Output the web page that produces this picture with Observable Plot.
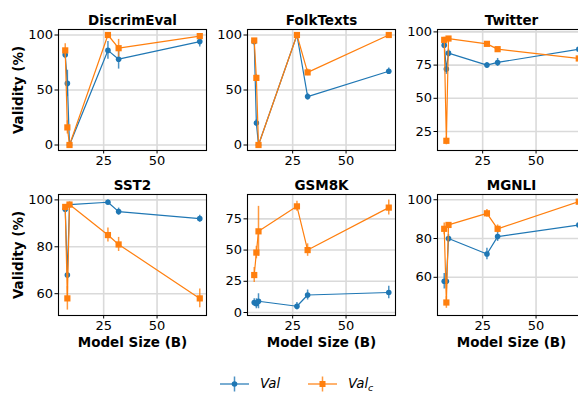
<!DOCTYPE html>
<html><head><meta charset="utf-8">
<script src="https://cdn.jsdelivr.net/npm/d3@7"></script>
<script src="https://cdn.jsdelivr.net/npm/@observablehq/plot@0.6"></script>
<style>
body{margin:0;background:#fff;font-family:"DejaVu Sans",sans-serif;}
#wrap{position:relative;width:578px;height:394px;overflow:hidden;background:#fff;}
#wrap svg.panel{position:absolute;}
.leg{position:absolute;font-family:"DejaVu Sans",sans-serif;font-style:italic;font-size:13.3px;color:#000;line-height:1;}
.leg sub{font-size:9.5px;vertical-align:-3px;}
</style></head><body><div id="wrap"></div>
<script>
// ---- data ----
const modelSizes = [7, 8, 9, 27, 32, 70];
const tasks = ["DiscrimEval", "FolkTexts", "Twitter", "SST2", "GSM8K", "MGNLI"];
const seriesNames = ["Val", "Val_c"];
const valMean = [
  [82, 56, 0, 86, 78, 94],
  [94, 20, 0, 100, 44, 67],
  [90, 72, 84, 75, 77, 87],
  [96, 68, 98, 99, 95, 92],
  [8, 7, 9, 5, 14, 16],
  [58, 58, 80, 72, 81, 87]
];
const valErr = [
  [3, 12, 1, 8, 9, 5],
  [2, 3, 1, 1, 3, 3],
  [2, 4, 3, 2, 3, 2],
  [1, 1, 1, 1, 1.5, 1.5],
  [3, 4, 6, 3, 4, 5],
  [4, 4, 2, 3, 2.5, 2]
];
const valcMean = [
  [86, 16, 0, 100, 88, 99],
  [95, 61, 0, 100, 66, 100],
  [94, 18, 95, 91, 87, 80],
  [97, 58, 98, 85, 81, 58],
  [30, 48, 65, 85, 50, 84],
  [85, 47, 87, 93, 85, 99]
];
const valcErr = [
  [6, 6, 1, 1, 8, 1],
  [1, 3, 1, 1, 3, 1],
  [2, 3, 1, 1.5, 1, 2],
  [1, 5, 1, 3, 3, 4],
  [6, 5, 20, 4, 5, 6],
  [3, 3, 1, 2, 2, 1]
];
const xTicks = [25, 50];
const yTicks = [[0, 50, 100], [0, 50, 100], [25, 50, 75, 100], [60, 80, 100], [0, 25, 50, 75], [60, 80, 100]];

// ---- layout / scales ----
const xDomain = [3.85, 73.15];
const yDomains = [[-5, 105], [-5, 105], [10.7, 101.8], [50.7, 102.3], [-2.4, 94.5], [40.3, 102.7]];
const colLeft = [58, 247, 437];
const rowTop = [29.3, 194];
const W = 148, H = 121;
const BLUE = "#1f77b4", ORANGE = "#ff7f0e";

const wrap = document.getElementById("wrap");

function series(i, means, errs, name) {
  return modelSizes.map((x, j) => ({x, y: means[i][j], e: errs[i][j], s: name}));
}

tasks.forEach((task, i) => {
  const col = i % 3, row = Math.floor(i / 3);
  const mL = col === 0 ? 58 : 42, mR = 14, mT = 30, mB = row === 1 ? 40 : 22;
  const a = series(i, valMean, valErr, seriesNames[0]);
  const b = series(i, valcMean, valcErr, seriesNames[1]);
  const marks = [
    Plot.gridX({ticks: xTicks, stroke: "#dadada", strokeOpacity: 1, strokeWidth: 1.6}),
    Plot.gridY({ticks: yTicks[i], stroke: "#dadada", strokeOpacity: 1, strokeWidth: 1.6}),
    Plot.axisX({ticks: xTicks, tickSize: 3.5, tickPadding: 2, label: null, fontSize: 13}),
    Plot.axisY({ticks: yTicks[i], tickSize: 3.5, tickPadding: 2, label: null, fontSize: 13}),
    Plot.ruleX(a, {x: "x", y1: d => d.y - d.e, y2: d => d.y + d.e, stroke: BLUE, strokeWidth: 1.5, strokeOpacity: 0.8}),
    Plot.line(a, {x: "x", y: "y", stroke: BLUE, strokeWidth: 1.2}),
    Plot.dot(a, {x: "x", y: "y", r: 2.8, fill: BLUE, symbol: "circle"}),
    Plot.ruleX(b, {x: "x", y1: d => d.y - d.e, y2: d => d.y + d.e, stroke: ORANGE, strokeWidth: 1.5, strokeOpacity: 0.8}),
    Plot.line(b, {x: "x", y: "y", stroke: ORANGE, strokeWidth: 1.2}),
    Plot.dot(b, {x: "x", y: "y", r: 3.5, fill: ORANGE, symbol: "square"}),
    Plot.frame({stroke: "#000", strokeWidth: 1.1}),
    Plot.text([task], {frameAnchor: "top", lineAnchor: "middle", textAnchor: "middle", dy: -9, fontWeight: "bold", fontSize: 13.5, fill: "#000"})
  ];
  if (col === 0) marks.push(Plot.text(["Validity (%)"], {frameAnchor: "left", textAnchor: "middle", lineAnchor: "middle", rotate: -90, dx: -40, fontWeight: "bold", fontSize: 13.5, fill: "#000"}));
  if (row === 1) marks.push(Plot.text(["Model Size (B)"], {frameAnchor: "bottom", textAnchor: "middle", lineAnchor: "middle", dy: 27, fontWeight: "bold", fontSize: 13.5, fill: "#000"}));
  const chart = Plot.plot({
    width: mL + W + mR, height: mT + H + mB,
    marginLeft: mL, marginRight: mR, marginTop: mT, marginBottom: mB,
    style: {background: "transparent", overflow: "visible", fontFamily: "DejaVu Sans", fontSize: "13px", color: "#000", maxWidth: "none"},
    x: {domain: xDomain},
    y: {domain: yDomains[i]},
    marks
  });
  chart.classList.add("panel");
  chart.style.left = (colLeft[col] - mL) + "px";
  chart.style.top = (rowTop[row] - mT) + "px";
  wrap.appendChild(chart);
});

// ---- legend ----
function legendItem(left, color, square, label) {
  const ns = "http://www.w3.org/2000/svg";
  const svg = document.createElementNS(ns, "svg");
  svg.setAttribute("width", 33); svg.setAttribute("height", 20);
  svg.style.position = "absolute"; svg.style.left = left + "px"; svg.style.top = "374px";
  svg.innerHTML = `<line x1="2" x2="31" y1="10" y2="10" stroke="${color}" stroke-width="2" stroke-opacity="0.6"/>` +
    `<line x1="16.5" x2="16.5" y1="2.5" y2="17.5" stroke="${color}" stroke-width="1.5" stroke-opacity="0.8"/>` +
    (square ? `<rect x="13.5" y="7" width="6" height="6" fill="${color}"/>` : `<circle cx="16.5" cy="10" r="2.8" fill="${color}"/>`);
  wrap.appendChild(svg);
  const t = document.createElement("div");
  t.className = "leg"; t.style.left = (left + 42) + "px"; t.style.top = "377px";
  t.innerHTML = label;
  wrap.appendChild(t);
}
legendItem(218, BLUE, false, seriesNames[0]);
legendItem(306, ORANGE, true, seriesNames[1].split("_")[0] + "<sub>" + seriesNames[1].split("_")[1] + "</sub>");
</script></body></html>
